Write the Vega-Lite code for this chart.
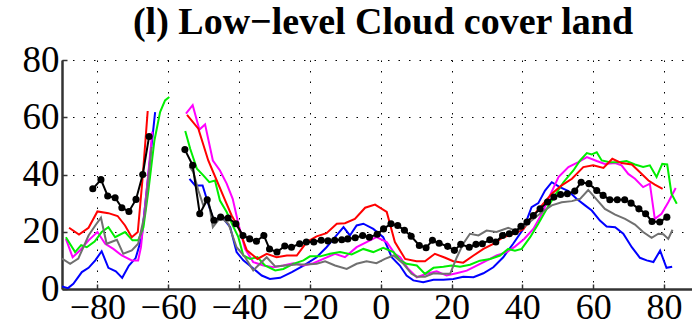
{
  "$schema": "https://vega.github.io/schema/vega-lite/v6.json",
  "width": 630,
  "height": 229,
  "autosize": {"type": "none"},
  "padding": {"left": 62, "top": 60, "right": 0, "bottom": 39},
  "background": "white",
  "title": {
    "text": "(l) Low−level Cloud cover land",
    "font": "Liberation Serif",
    "fontSize": 38,
    "fontWeight": "bold",
    "color": "black",
    "anchor": "middle",
    "offset": -1,
    "dx": 6
  },
  "config": {
    "view": {"stroke": null},
    "axis": {
      "labelFont": "Liberation Serif",
      "labelFontSize": 37,
      "labelColor": "black",
      "domainColor": "#333333",
      "domainWidth": 2.5,
      "tickColor": "#333333",
      "tickWidth": 1.5,
      "tickSize": -5,
      "grid": true,
      "gridColor": "#000000",
      "gridDash": [1.5, 9],
      "gridWidth": 1,
      "title": null
    }
  },
  "data": {"values": [
    {"s":"blue","g":"a","x":-90,"y":0.9},{"s":"blue","g":"a","x":-88.3,"y":0.3},{"s":"blue","g":"a","x":-86.8,"y":1.8},{"s":"blue","g":"a","x":-84.4,"y":5.9},{"s":"blue","g":"a","x":-82.5,"y":7.4},{"s":"blue","g":"a","x":-80.6,"y":10},{"s":"blue","g":"a","x":-78.8,"y":13.2},{"s":"blue","g":"a","x":-76.9,"y":7.4},{"s":"blue","g":"a","x":-74.8,"y":6.2},{"s":"blue","g":"a","x":-73,"y":3.9},{"s":"blue","g":"a","x":-71.1,"y":8.2},{"s":"blue","g":"a","x":-69.2,"y":10.8},{"s":"blue","g":"a","x":-67.5,"y":18},{"s":"blue","g":"a","x":-65.6,"y":40},{"s":"blue","g":"a","x":-63.7,"y":61.8},
    {"s":"blue","g":"b","x":-54,"y":38.5},{"s":"blue","g":"b","x":-52.4,"y":36.2},{"s":"blue","g":"b","x":-50.3,"y":36.2},{"s":"blue","g":"b","x":-48.7,"y":29.8},{"s":"blue","g":"b","x":-47.2,"y":24},{"s":"blue","g":"b","x":-44.9,"y":25.3},{"s":"blue","g":"b","x":-42.5,"y":21.6},{"s":"blue","g":"b","x":-40.7,"y":12.9},{"s":"blue","g":"b","x":-38.8,"y":10},{"s":"blue","g":"b","x":-36.4,"y":7.6},{"s":"blue","g":"b","x":-33.6,"y":4.7},{"s":"blue","g":"b","x":-31.3,"y":3.5},{"s":"blue","g":"b","x":-28.4,"y":3.9},{"s":"blue","g":"b","x":-25.1,"y":5.9},{"s":"blue","g":"b","x":-21.8,"y":8.2},{"s":"blue","g":"b","x":-18.1,"y":11.1},{"s":"blue","g":"b","x":-15.3,"y":14.6},{"s":"blue","g":"b","x":-12.9,"y":18.1},{"s":"blue","g":"b","x":-10.5,"y":21.6},{"s":"blue","g":"b","x":-8.7,"y":18.7},{"s":"blue","g":"b","x":-6.8,"y":22.2},{"s":"blue","g":"b","x":-4.9,"y":22.8},{"s":"blue","g":"b","x":-2.1,"y":21},{"s":"blue","g":"b","x":0.7,"y":18.1},{"s":"blue","g":"b","x":3.1,"y":11.1},{"s":"blue","g":"b","x":5.4,"y":8.2},{"s":"blue","g":"b","x":7.3,"y":4.7},{"s":"blue","g":"b","x":9.2,"y":3},{"s":"blue","g":"b","x":12,"y":2.4},{"s":"blue","g":"b","x":14.9,"y":3.2},{"s":"blue","g":"b","x":17.7,"y":3.2},{"s":"blue","g":"b","x":20.5,"y":3.5},{"s":"blue","g":"b","x":23.3,"y":4.3},{"s":"blue","g":"b","x":26.2,"y":4.1},{"s":"blue","g":"b","x":29,"y":5.5},{"s":"blue","g":"b","x":31.8,"y":7.6},{"s":"blue","g":"b","x":34.6,"y":11.1},{"s":"blue","g":"b","x":37.4,"y":15.8},{"s":"blue","g":"b","x":40.3,"y":21},{"s":"blue","g":"b","x":42.6,"y":28.6},{"s":"blue","g":"b","x":44.5,"y":30},{"s":"blue","g":"b","x":46.4,"y":34.4},{"s":"blue","g":"b","x":48.3,"y":37.3},{"s":"blue","g":"b","x":50.6,"y":35.6},{"s":"blue","g":"b","x":53,"y":34.2},{"s":"blue","g":"b","x":55.3,"y":31.5},{"s":"blue","g":"b","x":57.7,"y":29.2},{"s":"blue","g":"b","x":59.6,"y":27.4},{"s":"blue","g":"b","x":61.9,"y":23.9},{"s":"blue","g":"b","x":63.8,"y":21.8},{"s":"blue","g":"b","x":66.2,"y":21.6},{"s":"blue","g":"b","x":68.5,"y":19.3},{"s":"blue","g":"b","x":70.9,"y":14.6},{"s":"blue","g":"b","x":73.2,"y":10.9},{"s":"blue","g":"b","x":75.1,"y":10},{"s":"blue","g":"b","x":77,"y":9.4},{"s":"blue","g":"b","x":78.9,"y":13.4},{"s":"blue","g":"b","x":80.7,"y":7.4},{"s":"blue","g":"b","x":82.3,"y":7.8},

    {"s":"magenta","g":"a","x":-88.9,"y":17.5},{"s":"magenta","g":"a","x":-87,"y":11.1},{"s":"magenta","g":"a","x":-84.9,"y":13.5},{"s":"magenta","g":"a","x":-82.5,"y":17},{"s":"magenta","g":"a","x":-80,"y":19.9},{"s":"magenta","g":"a","x":-77.8,"y":15.8},{"s":"magenta","g":"a","x":-75.5,"y":14},{"s":"magenta","g":"a","x":-73.1,"y":11.7},{"s":"magenta","g":"a","x":-70.3,"y":10},{"s":"magenta","g":"a","x":-68.5,"y":10},{"s":"magenta","g":"a","x":-67.7,"y":14.6},{"s":"magenta","g":"a","x":-66.1,"y":34.4},{"s":"magenta","g":"a","x":-64.5,"y":55},
    {"s":"magenta","g":"b","x":-55,"y":61.3},{"s":"magenta","g":"b","x":-53.1,"y":64.2},{"s":"magenta","g":"b","x":-51.2,"y":55.7},{"s":"magenta","g":"b","x":-49.6,"y":57.5},{"s":"magenta","g":"b","x":-47.4,"y":44.9},{"s":"magenta","g":"b","x":-45.4,"y":41.4},{"s":"magenta","g":"b","x":-43.5,"y":36.8},{"s":"magenta","g":"b","x":-41.8,"y":31.5},{"s":"magenta","g":"b","x":-40.2,"y":22.8},{"s":"magenta","g":"b","x":-38.3,"y":14},{"s":"magenta","g":"b","x":-36,"y":9.4},{"s":"magenta","g":"b","x":-33.1,"y":8.2},{"s":"magenta","g":"b","x":-30.3,"y":7.6},{"s":"magenta","g":"b","x":-27.5,"y":8.2},{"s":"magenta","g":"b","x":-24.7,"y":9},{"s":"magenta","g":"b","x":-21.8,"y":8.2},{"s":"magenta","g":"b","x":-19,"y":9},{"s":"magenta","g":"b","x":-16.2,"y":10.5},{"s":"magenta","g":"b","x":-12.9,"y":12.3},{"s":"magenta","g":"b","x":-10.1,"y":11.1},{"s":"magenta","g":"b","x":-6.8,"y":14.6},{"s":"magenta","g":"b","x":-4,"y":16.4},{"s":"magenta","g":"b","x":-1.2,"y":18.1},{"s":"magenta","g":"b","x":1.7,"y":16.4},{"s":"magenta","g":"b","x":4,"y":12.3},{"s":"magenta","g":"b","x":5.5,"y":11.1},{"s":"magenta","g":"b","x":7.8,"y":7},{"s":"magenta","g":"b","x":10.2,"y":4.1},{"s":"magenta","g":"b","x":13,"y":5.3},{"s":"magenta","g":"b","x":15.8,"y":6.2},{"s":"magenta","g":"b","x":18.6,"y":4.7},{"s":"magenta","g":"b","x":21.4,"y":5.5},{"s":"magenta","g":"b","x":24.3,"y":6.4},{"s":"magenta","g":"b","x":27.1,"y":8.2},{"s":"magenta","g":"b","x":29.9,"y":9.9},{"s":"magenta","g":"b","x":32.7,"y":11.7},{"s":"magenta","g":"b","x":35.6,"y":12.9},{"s":"magenta","g":"b","x":37.9,"y":14.8},{"s":"magenta","g":"b","x":40.5,"y":17.5},{"s":"magenta","g":"b","x":43.1,"y":21},{"s":"magenta","g":"b","x":45.5,"y":26.3},{"s":"magenta","g":"b","x":47.8,"y":32.7},{"s":"magenta","g":"b","x":50.2,"y":39.1},{"s":"magenta","g":"b","x":53,"y":42.6},{"s":"magenta","g":"b","x":55.8,"y":44.3},{"s":"magenta","g":"b","x":58.2,"y":46.1},{"s":"magenta","g":"b","x":61,"y":44.7},{"s":"magenta","g":"b","x":63.3,"y":43.7},{"s":"magenta","g":"b","x":66.2,"y":44},{"s":"magenta","g":"b","x":68,"y":43.2},{"s":"magenta","g":"b","x":69.9,"y":40.2},{"s":"magenta","g":"b","x":71.8,"y":38.5},{"s":"magenta","g":"b","x":74.1,"y":35.6},{"s":"magenta","g":"b","x":76,"y":36.8},{"s":"magenta","g":"b","x":77.4,"y":24.5},{"s":"magenta","g":"b","x":79.3,"y":26.3},{"s":"magenta","g":"b","x":81.2,"y":30.3},{"s":"magenta","g":"b","x":83.3,"y":35.3},

    {"s":"green","g":"a","x":-88.9,"y":18.1},{"s":"green","g":"a","x":-86.3,"y":12.9},{"s":"green","g":"a","x":-84.6,"y":15.3},{"s":"green","g":"a","x":-83,"y":14.6},{"s":"green","g":"a","x":-80.8,"y":16.6},{"s":"green","g":"a","x":-78.8,"y":19.9},{"s":"green","g":"a","x":-76.9,"y":21.6},{"s":"green","g":"a","x":-75,"y":18.1},{"s":"green","g":"a","x":-72.2,"y":19.9},{"s":"green","g":"a","x":-70.1,"y":17},{"s":"green","g":"a","x":-68.5,"y":17},{"s":"green","g":"a","x":-67,"y":21.6},{"s":"green","g":"a","x":-65.6,"y":34.4},{"s":"green","g":"a","x":-63.9,"y":51.9},{"s":"green","g":"a","x":-62.3,"y":61.8},{"s":"green","g":"a","x":-60.9,"y":65.9},{"s":"green","g":"a","x":-59.7,"y":67.1},
    {"s":"green","g":"b","x":-55.2,"y":55.2},{"s":"green","g":"b","x":-53.8,"y":49},{"s":"green","g":"b","x":-51.9,"y":42},{"s":"green","g":"b","x":-50.1,"y":39.7},{"s":"green","g":"b","x":-48.4,"y":37.3},{"s":"green","g":"b","x":-46.8,"y":37.9},{"s":"green","g":"b","x":-45.4,"y":30.9},{"s":"green","g":"b","x":-43.5,"y":26.9},{"s":"green","g":"b","x":-41.8,"y":22.2},{"s":"green","g":"b","x":-40.2,"y":18.1},{"s":"green","g":"b","x":-38.8,"y":11.7},{"s":"green","g":"b","x":-36.9,"y":10.5},{"s":"green","g":"b","x":-34.8,"y":11.1},{"s":"green","g":"b","x":-32.7,"y":8.2},{"s":"green","g":"b","x":-29.8,"y":6.5},{"s":"green","g":"b","x":-27.5,"y":7},{"s":"green","g":"b","x":-24.7,"y":8.8},{"s":"green","g":"b","x":-21.8,"y":10},{"s":"green","g":"b","x":-20,"y":11.4},{"s":"green","g":"b","x":-17.1,"y":11.4},{"s":"green","g":"b","x":-14.3,"y":12.3},{"s":"green","g":"b","x":-11.5,"y":12.9},{"s":"green","g":"b","x":-8.2,"y":12.1},{"s":"green","g":"b","x":-4.9,"y":14},{"s":"green","g":"b","x":-2.1,"y":12.9},{"s":"green","g":"b","x":0.7,"y":14.4},{"s":"green","g":"b","x":3.6,"y":12.9},{"s":"green","g":"b","x":5.5,"y":10},{"s":"green","g":"b","x":7.3,"y":8.8},{"s":"green","g":"b","x":10.2,"y":8.2},{"s":"green","g":"b","x":12.5,"y":5.3},{"s":"green","g":"b","x":14.9,"y":7.4},{"s":"green","g":"b","x":17.7,"y":7.8},{"s":"green","g":"b","x":20,"y":8.2},{"s":"green","g":"b","x":22.4,"y":7.8},{"s":"green","g":"b","x":25.2,"y":8.5},{"s":"green","g":"b","x":28,"y":9.9},{"s":"green","g":"b","x":30.9,"y":10.5},{"s":"green","g":"b","x":33.7,"y":11.7},{"s":"green","g":"b","x":36,"y":14},{"s":"green","g":"b","x":37.9,"y":13.4},{"s":"green","g":"b","x":39.8,"y":14},{"s":"green","g":"b","x":42.2,"y":18.1},{"s":"green","g":"b","x":44.5,"y":22.8},{"s":"green","g":"b","x":46.9,"y":28},{"s":"green","g":"b","x":49.2,"y":32.7},{"s":"green","g":"b","x":51.6,"y":37.3},{"s":"green","g":"b","x":54.4,"y":41.4},{"s":"green","g":"b","x":56.3,"y":44.9},{"s":"green","g":"b","x":58.2,"y":47.5},{"s":"green","g":"b","x":59.6,"y":47},{"s":"green","g":"b","x":61,"y":47.8},{"s":"green","g":"b","x":62.4,"y":44.9},{"s":"green","g":"b","x":64.7,"y":44.3},{"s":"green","g":"b","x":67.1,"y":44.3},{"s":"green","g":"b","x":69.4,"y":44.7},{"s":"green","g":"b","x":71.8,"y":43.5},{"s":"green","g":"b","x":74.1,"y":42.6},{"s":"green","g":"b","x":76,"y":43.2},{"s":"green","g":"b","x":77.9,"y":39.1},{"s":"green","g":"b","x":79.5,"y":43.7},{"s":"green","g":"b","x":80.9,"y":43.5},{"s":"green","g":"b","x":82.1,"y":33.3},{"s":"green","g":"b","x":83.6,"y":29.8},

    {"s":"red","g":"a","x":-88,"y":21.4},{"s":"red","g":"a","x":-85.2,"y":19},{"s":"red","g":"a","x":-82.5,"y":21.4},{"s":"red","g":"a","x":-80,"y":27.1},{"s":"red","g":"a","x":-76.9,"y":26.5},{"s":"red","g":"a","x":-74.3,"y":25.5},{"s":"red","g":"a","x":-72.2,"y":22.2},{"s":"red","g":"a","x":-70.3,"y":18.1},{"s":"red","g":"a","x":-68.6,"y":19.9},{"s":"red","g":"a","x":-67.3,"y":37.9},{"s":"red","g":"a","x":-65.8,"y":62.2},
    {"s":"red","g":"b","x":-54.7,"y":60.8},{"s":"red","g":"b","x":-51.5,"y":56},{"s":"red","g":"b","x":-48.7,"y":44.9},{"s":"red","g":"b","x":-46.3,"y":37.9},{"s":"red","g":"b","x":-43.9,"y":30.9},{"s":"red","g":"b","x":-42.1,"y":25.7},{"s":"red","g":"b","x":-40.2,"y":21.6},{"s":"red","g":"b","x":-37.8,"y":13.5},{"s":"red","g":"b","x":-34.8,"y":10.5},{"s":"red","g":"b","x":-32.2,"y":12.3},{"s":"red","g":"b","x":-29.4,"y":11.1},{"s":"red","g":"b","x":-26.5,"y":11.7},{"s":"red","g":"b","x":-23.7,"y":11.7},{"s":"red","g":"b","x":-20.9,"y":16.4},{"s":"red","g":"b","x":-18.1,"y":18.4},{"s":"red","g":"b","x":-15.3,"y":19.5},{"s":"red","g":"b","x":-12.4,"y":22.8},{"s":"red","g":"b","x":-10.1,"y":23},{"s":"red","g":"b","x":-7.3,"y":24.5},{"s":"red","g":"b","x":-4.4,"y":28.4},{"s":"red","g":"b","x":-1.6,"y":29.5},{"s":"red","g":"b","x":1.7,"y":26.9},{"s":"red","g":"b","x":4,"y":16.4},{"s":"red","g":"b","x":6.9,"y":10.5},{"s":"red","g":"b","x":10.1,"y":9.7},{"s":"red","g":"b","x":12.5,"y":9.7},{"s":"red","g":"b","x":15.3,"y":12.3},{"s":"red","g":"b","x":18.2,"y":10.9},{"s":"red","g":"b","x":20.5,"y":9.7},{"s":"red","g":"b","x":23.3,"y":9.2},{"s":"red","g":"b","x":26.2,"y":11.7},{"s":"red","g":"b","x":29,"y":14},{"s":"red","g":"b","x":31.8,"y":15.8},{"s":"red","g":"b","x":34.6,"y":18.1},{"s":"red","g":"b","x":37,"y":19},{"s":"red","g":"b","x":39.3,"y":20.2},{"s":"red","g":"b","x":40.3,"y":21},{"s":"red","g":"b","x":43.1,"y":25.7},{"s":"red","g":"b","x":45.5,"y":29.2},{"s":"red","g":"b","x":48.3,"y":33.3},{"s":"red","g":"b","x":51.1,"y":36.2},{"s":"red","g":"b","x":54,"y":38.5},{"s":"red","g":"b","x":57.2,"y":42.6},{"s":"red","g":"b","x":60,"y":43.2},{"s":"red","g":"b","x":62.9,"y":42.3},{"s":"red","g":"b","x":65.4,"y":45.5},{"s":"red","g":"b","x":68,"y":44},{"s":"red","g":"b","x":70.9,"y":43.5},{"s":"red","g":"b","x":73.2,"y":40.8},{"s":"red","g":"b","x":75.6,"y":37.9},{"s":"red","g":"b","x":77.4,"y":36.5},{"s":"red","g":"b","x":79.6,"y":35},

    {"s":"gray","g":"a","x":-90,"y":10.6},{"s":"gray","g":"a","x":-87.7,"y":8.8},{"s":"gray","g":"a","x":-85.4,"y":10.6},{"s":"gray","g":"a","x":-82.5,"y":18.7},{"s":"gray","g":"a","x":-80.6,"y":22.2},{"s":"gray","g":"a","x":-79,"y":24.9},{"s":"gray","g":"a","x":-77.4,"y":15.8},{"s":"gray","g":"a","x":-74.5,"y":17.2},{"s":"gray","g":"a","x":-72.7,"y":12.3},{"s":"gray","g":"a","x":-70.3,"y":13.5},{"s":"gray","g":"a","x":-68.5,"y":15.8},{"s":"gray","g":"a","x":-66.6,"y":26.3},{"s":"gray","g":"a","x":-64.7,"y":49.6},
    {"s":"gray","g":"b","x":-54,"y":42.8},{"s":"gray","g":"b","x":-52.9,"y":40.8},{"s":"gray","g":"b","x":-51.5,"y":34.4},{"s":"gray","g":"b","x":-50.1,"y":29.2},{"s":"gray","g":"b","x":-48.7,"y":31.5},{"s":"gray","g":"b","x":-47.4,"y":21.6},{"s":"gray","g":"b","x":-45.2,"y":25.1},{"s":"gray","g":"b","x":-43,"y":22.8},{"s":"gray","g":"b","x":-40.7,"y":14.6},{"s":"gray","g":"b","x":-38.3,"y":11.1},{"s":"gray","g":"b","x":-36,"y":6.5},{"s":"gray","g":"b","x":-34.1,"y":8.8},{"s":"gray","g":"b","x":-32.2,"y":11.1},{"s":"gray","g":"b","x":-29.8,"y":7.9},{"s":"gray","g":"b","x":-27,"y":8.2},{"s":"gray","g":"b","x":-23.7,"y":8.6},{"s":"gray","g":"b","x":-20.9,"y":8.6},{"s":"gray","g":"b","x":-18.1,"y":8.8},{"s":"gray","g":"b","x":-15.7,"y":9.7},{"s":"gray","g":"b","x":-12.9,"y":8.2},{"s":"gray","g":"b","x":-9.6,"y":7},{"s":"gray","g":"b","x":-6.8,"y":8.8},{"s":"gray","g":"b","x":-4,"y":9.7},{"s":"gray","g":"b","x":-1.2,"y":9},{"s":"gray","g":"b","x":1.2,"y":10.5},{"s":"gray","g":"b","x":3.6,"y":11.7},{"s":"gray","g":"b","x":6.4,"y":8.8},{"s":"gray","g":"b","x":8.7,"y":5.3},{"s":"gray","g":"b","x":10.2,"y":4.3},{"s":"gray","g":"b","x":12.5,"y":4.3},{"s":"gray","g":"b","x":14.9,"y":5.5},{"s":"gray","g":"b","x":17.2,"y":5.3},{"s":"gray","g":"b","x":19.6,"y":5.3},{"s":"gray","g":"b","x":21.5,"y":11.1},{"s":"gray","g":"b","x":23.3,"y":15.8},{"s":"gray","g":"b","x":25.2,"y":19.3},{"s":"gray","g":"b","x":27.6,"y":18.7},{"s":"gray","g":"b","x":29.9,"y":20.4},{"s":"gray","g":"b","x":32.7,"y":19.9},{"s":"gray","g":"b","x":36,"y":21.4},{"s":"gray","g":"b","x":38.4,"y":20.2},{"s":"gray","g":"b","x":40.3,"y":21.6},{"s":"gray","g":"b","x":42.6,"y":23.9},{"s":"gray","g":"b","x":45.5,"y":26.8},{"s":"gray","g":"b","x":48.3,"y":29.2},{"s":"gray","g":"b","x":51.1,"y":30.3},{"s":"gray","g":"b","x":54,"y":30.7},{"s":"gray","g":"b","x":56.3,"y":31.5},{"s":"gray","g":"b","x":58.6,"y":34.6},{"s":"gray","g":"b","x":61,"y":31.2},{"s":"gray","g":"b","x":63.3,"y":28},{"s":"gray","g":"b","x":66.2,"y":26},{"s":"gray","g":"b","x":69,"y":24.5},{"s":"gray","g":"b","x":71.8,"y":22.5},{"s":"gray","g":"b","x":74.1,"y":19.9},{"s":"gray","g":"b","x":76.5,"y":17.9},{"s":"gray","g":"b","x":78.4,"y":19.3},{"s":"gray","g":"b","x":79.8,"y":19.1},{"s":"gray","g":"b","x":81.2,"y":17.5},{"s":"gray","g":"b","x":82.4,"y":20.7},

    {"s":"black","g":"a","x":-81.3,"y":35},{"s":"black","g":"a","x":-79,"y":38.2},{"s":"black","g":"a","x":-77.1,"y":32.5},{"s":"black","g":"a","x":-75,"y":31.9},{"s":"black","g":"a","x":-73.1,"y":28.4},{"s":"black","g":"a","x":-71.1,"y":27.1},{"s":"black","g":"a","x":-69.1,"y":31.3},{"s":"black","g":"a","x":-67.2,"y":40},{"s":"black","g":"a","x":-65.4,"y":53.3},
    {"s":"black","g":"b","x":-55.3,"y":48.7},{"s":"black","g":"b","x":-53.1,"y":43.2},{"s":"black","g":"b","x":-51.1,"y":26.3},{"s":"black","g":"b","x":-49,"y":31.2},{"s":"black","g":"b","x":-47.1,"y":24},{"s":"black","g":"b","x":-45.2,"y":25.1},{"s":"black","g":"b","x":-43.1,"y":24.8},{"s":"black","g":"b","x":-40.9,"y":22.8},{"s":"black","g":"b","x":-38.9,"y":18.7},{"s":"black","g":"b","x":-37,"y":17.5},{"s":"black","g":"b","x":-35.1,"y":16.7},{"s":"black","g":"b","x":-33,"y":18.7},{"s":"black","g":"b","x":-31.4,"y":14},{"s":"black","g":"b","x":-29.3,"y":12.9},{"s":"black","g":"b","x":-27.1,"y":15},{"s":"black","g":"b","x":-25.2,"y":14.6},{"s":"black","g":"b","x":-22.9,"y":15.8},{"s":"black","g":"b","x":-21,"y":16.4},{"s":"black","g":"b","x":-18.9,"y":16.4},{"s":"black","g":"b","x":-16.8,"y":17},{"s":"black","g":"b","x":-14.9,"y":16.8},{"s":"black","g":"b","x":-13,"y":17},{"s":"black","g":"b","x":-11,"y":17.2},{"s":"black","g":"b","x":-9.3,"y":17.5},{"s":"black","g":"b","x":-7.2,"y":17.9},{"s":"black","g":"b","x":-5.1,"y":18.7},{"s":"black","g":"b","x":-3.2,"y":18.1},{"s":"black","g":"b","x":-1,"y":19.1},{"s":"black","g":"b","x":0.8,"y":21},{"s":"black","g":"b","x":2.9,"y":22.8},{"s":"black","g":"b","x":4.8,"y":22.2},{"s":"black","g":"b","x":6.7,"y":20.5},{"s":"black","g":"b","x":8.6,"y":18.4},{"s":"black","g":"b","x":10.9,"y":15.2},{"s":"black","g":"b","x":12.8,"y":14.4},{"s":"black","g":"b","x":14.6,"y":17},{"s":"black","g":"b","x":16.5,"y":16},{"s":"black","g":"b","x":18.9,"y":14.9},{"s":"black","g":"b","x":20.8,"y":13.5},{"s":"black","g":"b","x":22.6,"y":15.6},{"s":"black","g":"b","x":25,"y":14.6},{"s":"black","g":"b","x":26.9,"y":15.6},{"s":"black","g":"b","x":28.7,"y":15.8},{"s":"black","g":"b","x":30.8,"y":17.2},{"s":"black","g":"b","x":32.5,"y":16.4},{"s":"black","g":"b","x":34.4,"y":18.7},{"s":"black","g":"b","x":36.3,"y":19.3},{"s":"black","g":"b","x":38,"y":20},{"s":"black","g":"b","x":39.6,"y":21.9},{"s":"black","g":"b","x":41.3,"y":23.4},{"s":"black","g":"b","x":43.1,"y":25.7},{"s":"black","g":"b","x":45,"y":28},{"s":"black","g":"b","x":47.1,"y":30.4},{"s":"black","g":"b","x":48.9,"y":32.1},{"s":"black","g":"b","x":50.8,"y":33},{"s":"black","g":"b","x":52.7,"y":33.3},{"s":"black","g":"b","x":54.8,"y":34.2},{"s":"black","g":"b","x":56.6,"y":37.3},{"s":"black","g":"b","x":58.8,"y":36.8},{"s":"black","g":"b","x":61,"y":34.4},{"s":"black","g":"b","x":62.8,"y":32.7},{"s":"black","g":"b","x":64.7,"y":31.2},{"s":"black","g":"b","x":66.8,"y":31.2},{"s":"black","g":"b","x":68.9,"y":31.2},{"s":"black","g":"b","x":70.7,"y":30},{"s":"black","g":"b","x":72.9,"y":28},{"s":"black","g":"b","x":74.8,"y":26.3},{"s":"black","g":"b","x":76.6,"y":23.6},{"s":"black","g":"b","x":78.8,"y":23.4},{"s":"black","g":"b","x":80.8,"y":25.1}
  ]},
  "encoding": {
    "x": {"field": "x", "type": "quantitative",
          "scale": {"domain": [-90, 87.9], "nice": false, "zero": false},
          "axis": {"values": [-80, -60, -40, -20, 0, 20, 40, 60, 80], "labelPadding": 6, "labelFontSize": 36, "labelFlush": false}},
    "y": {"field": "y", "type": "quantitative",
          "scale": {"domain": [0, 80], "nice": false},
          "axis": {"values": [0, 20, 40, 60, 80], "labelPadding": 8}}
  },
  "layer": [
    {
      "mark": {"type": "line", "strokeWidth": 2, "clip": true},
      "encoding": {
        "color": {"field": "s", "type": "nominal", "legend": null,
                  "scale": {"domain": ["blue", "magenta", "green", "red", "gray", "black"],
                            "range": ["#0000ff", "#ff00ff", "#00ee00", "#ff0000", "#707070", "#000000"]}},
        "detail": {"field": "g", "type": "nominal"}
      }
    },
    {
      "transform": [{"filter": "datum.s === 'black'"}],
      "mark": {"type": "point", "filled": true, "size": 50, "opacity": 1, "color": "black"},
      "encoding": {}
    }
  ]
}
